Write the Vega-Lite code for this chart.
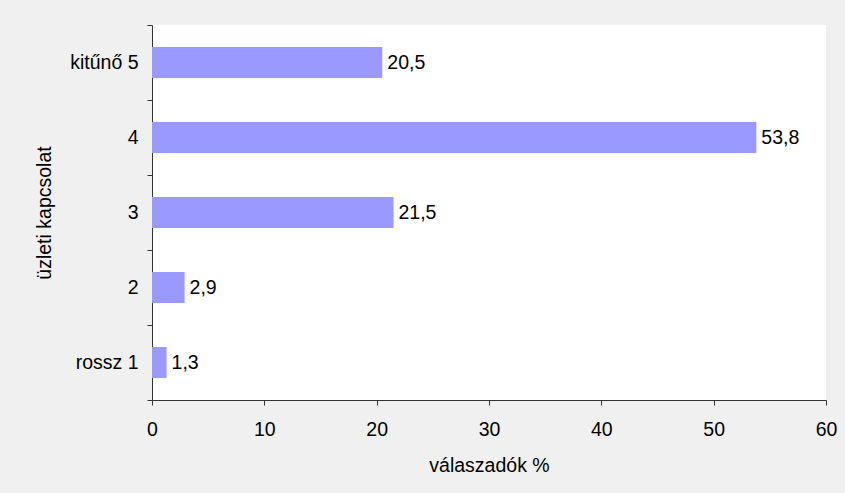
{
  "$schema": "https://vega.github.io/schema/vega-lite/v6.json",
  "autosize": "none",
  "width": 674,
  "height": 375,
  "padding": {"left": 152, "top": 25, "right": 19, "bottom": 93},
  "background": "#F0F0F0",
  "config": {
    "font": "Liberation Sans",
    "view": {"fill": "white", "stroke": null},
    "locale": {"number": {"decimal": ",", "thousands": " ", "grouping": [3], "currency": ["", " Ft"]}},
    "axis": {
      "domainColor": "#333333",
      "tickColor": "#333333",
      "labelColor": "black",
      "titleColor": "black",
      "labelFont": "Liberation Sans",
      "titleFont": "Liberation Sans",
      "labelFontSize": 19.5,
      "titleFontSize": 19.5,
      "titleFontWeight": "normal",
      "grid": false,
      "tickSize": 5
    }
  },
  "data": {
    "values": [
      {"kategoria": "kitűnő 5", "ertek": 20.5},
      {"kategoria": "4", "ertek": 53.8},
      {"kategoria": "3", "ertek": 21.5},
      {"kategoria": "2", "ertek": 2.9},
      {"kategoria": "rossz 1", "ertek": 1.3}
    ]
  },
  "encoding": {
    "y": {
      "field": "kategoria",
      "type": "nominal",
      "sort": ["kitűnő 5", "4", "3", "2", "rossz 1"],
      "scale": {"paddingInner": 0, "paddingOuter": 0},
      "axis": {
        "title": "üzleti kapcsolat",
        "tickBand": "extent",
        "labelPadding": 9,
        "titlePadding": 15
      }
    },
    "x": {
      "field": "ertek",
      "type": "quantitative",
      "scale": {"domain": [0, 60], "nice": false},
      "axis": {
        "title": "válaszadók %",
        "values": [0, 10, 20, 30, 40, 50, 60],
        "labelPadding": 15,
        "titlePadding": 18,
        "labelFlush": false
      }
    }
  },
  "layer": [
    {"mark": {"type": "bar", "color": "#9999FF", "height": {"band": 0.413}}},
    {
      "mark": {"type": "text", "align": "left", "dx": 5, "fontSize": 19.5, "color": "black", "font": "Liberation Sans"},
      "encoding": {"text": {"field": "ertek", "type": "quantitative", "format": ".1f"}}
    }
  ]
}
